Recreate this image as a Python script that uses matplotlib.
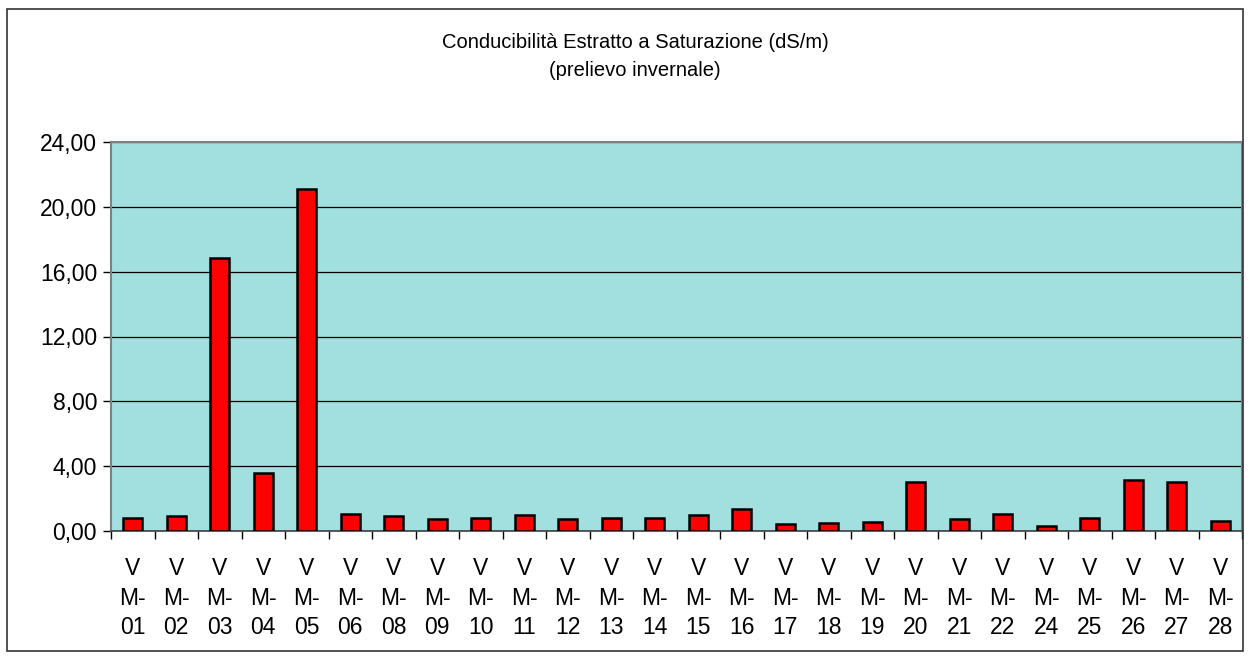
import matplotlib.pyplot as plt
import numpy as np
from matplotlib.patches import Rectangle
from matplotlib.ticker import FuncFormatter, FixedLocator

plt.rcParams['font.family'] = ['Liberation Sans', 'DejaVu Sans']

labels = ['01', '02', '03', '04', '05', '06', '08', '09', '10', '11', '12', '13', '14',
          '15', '16', '17', '18', '19', '20', '21', '22', '24', '25', '26', '27', '28']
values = [0.82, 0.93, 16.85, 3.6, 21.1, 1.03, 0.93, 0.72, 0.82, 1.0, 0.72, 0.82, 0.82,
          1.0, 1.34, 0.41, 0.51, 0.53, 3.02, 0.72, 1.05, 0.33, 0.82, 3.15, 3.02, 0.64]
yticks = [0, 4, 8, 12, 16, 20, 24]

fig = plt.figure(figsize=(12.52, 6.65), dpi=100)
ax = fig.add_axes([111 / 1252, 1 - 531 / 665, (1242 - 111) / 1252, (531 - 142) / 665])

x = np.arange(len(values))
ax.bar(x, values, width=0.44, color='#ff0000', edgecolor='black', linewidth=1.8, zorder=3)

ax.set_facecolor('#a2dfdf')
ax.set_xlim(-0.5, len(values) - 0.5)
ax.set_ylim(0, 24)
ax.set_yticks(yticks)
ax.yaxis.set_major_formatter(FuncFormatter(lambda v, p: f'{v:.2f}'.replace('.', ',')))
ax.grid(axis='y', color='black', linewidth=0.9, zorder=1)

ax.set_xticks(x)
ax.set_xticklabels(['V\nM-\n' + l for l in labels], linespacing=1.36)
ax.xaxis.set_minor_locator(FixedLocator(np.arange(-0.5, len(values), 1)))
ax.tick_params(axis='x', which='major', length=0, pad=19, labelsize=16.5)
ax.tick_params(axis='x', which='minor', length=6, width=1, color='black')
ax.tick_params(axis='y', length=6, width=1, labelsize=16.5, pad=4)

for s in ['left', 'right', 'top']:
    ax.spines[s].set_color('#808080')
    ax.spines[s].set_linewidth(1.5)
ax.spines['bottom'].set_color('#404040')
ax.spines['bottom'].set_linewidth(1.2)

fig.text(635 / 1252, 1 - 43 / 665, 'Conducibilità Estratto a Saturazione (dS/m)', ha='center', va='center', fontsize=14.5)
fig.text(635 / 1252, 1 - 70 / 665, '(prelievo invernale)', ha='center', va='center', fontsize=14.5)

fig.patches.append(Rectangle((7 / 1252, 1 - 651 / 665), (1243 - 7) / 1252, (651 - 9) / 665,
                             transform=fig.transFigure, fill=False, edgecolor='#333333', linewidth=1.2))

fig.savefig('out.png', dpi=100)
